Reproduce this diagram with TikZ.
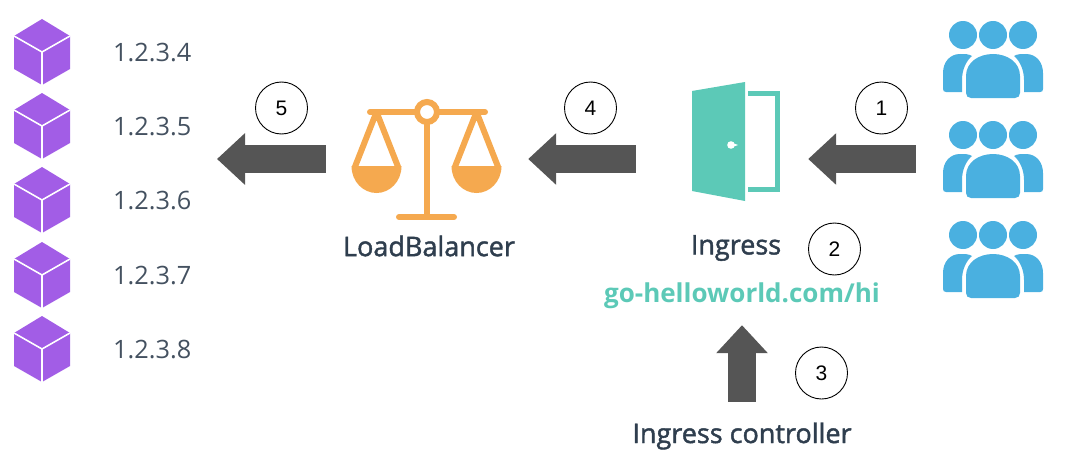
\documentclass[tikz,border=0pt]{standalone}
\usepackage{fontspec}
\setmainfont{Open Sans}
\newfontfamily\labelfont[RawFeature={embolden=1.6}]{Open Sans}
\newfontfamily\numfont{Liberation Sans}
\usetikzlibrary{arrows.meta}

\definecolor{podpurple}{HTML}{A25DE6}
\definecolor{scaleorange}{HTML}{F5A94F}
\definecolor{doorteal}{HTML}{5CC9B7}
\definecolor{userblue}{HTML}{4AB0E0}
\definecolor{arrowgray}{HTML}{555555}
\definecolor{labelslate}{HTML}{2F3E4E}

\tikzset{
    bigarrow/.style={draw=arrowgray, line width=28pt, -{Triangle[length=28pt, width=50pt]}},
    numcircle/.style={circle, draw=black, line width=0.9pt, fill=white, minimum size=52pt, inner sep=0pt, font=\fontsize{21}{24}\selectfont\numfont},
    iplabel/.style={anchor=west, inner sep=0pt, text=labelslate!90, font=\fontsize{25.3}{28}\selectfont},
    iconlabel/.style={inner sep=0pt, text=labelslate, font=\fontsize{27}{30}\selectfont\labelfont},
    urllabel/.style={inner sep=0pt, text=doorteal, font=\fontsize{26}{30}\selectfont\bfseries},
    iconbox/.style={inner sep=0pt, minimum height=50pt},
    cubepic/.pic={
        \fill[podpurple] (0,-33) -- (28,-16) -- (28,17) -- (0,33) -- (-28,17) -- (-28,-16) -- cycle;
        \draw[white, line width=1.6pt] (-28,-16) -- (0,0) -- (28,-16) (0,0) -- (0,33);
    },
    userspic/.pic={
        \fill[userblue] (-30,-24) circle[radius=14] (0,-24) circle[radius=14] (30,-24) circle[radius=14];
        \fill[userblue] (-27,17) .. controls (-27,3) and (-14,-5) .. (0,-5) .. controls (14,-5) and (27,3) .. (27,17)
            -- (27,34) .. controls (27,37) and (25,39) .. (22,39) -- (-22,39) .. controls (-25,39) and (-27,37) .. (-27,34) -- cycle;
        \fill[userblue] (-31,33) -- (-47,33) .. controls (-49,33) and (-50,32) .. (-50,30) -- (-50,14)
            .. controls (-50,3) and (-43,-5) .. (-33,-5) .. controls (-28,-5) and (-24,-5) .. (-21,-3)
            .. controls (-27,2) and (-31,11) .. (-31,21) -- cycle;
        \fill[userblue] (31,33) -- (47,33) .. controls (49,33) and (50,32) .. (50,30) -- (50,14)
            .. controls (50,3) and (43,-5) .. (33,-5) .. controls (28,-5) and (24,-5) .. (21,-3)
            .. controls (27,2) and (31,11) .. (31,21) -- cycle;
    },
    panpic/.pic={
        \fill[scaleorange] (-25,54) .. controls (-25,70) and (-13,81) .. (0,81) .. controls (13,81) and (25,70) .. (25,54) -- cycle;
        \draw[scaleorange, line width=6pt, line join=round] (-22,56) -- (0,0) -- (22,56);
    }
}

\begin{document}
\begin{tikzpicture}[x=1pt, y=-1pt]
    \useasboundingbox (0,0) rectangle (1076,460);

    % pods
    \foreach \i/\yy in {4/53, 5/127, 6/201, 7/276, 8/350} {
        \pic at (42,\yy-1) {cubepic};
        \node[iplabel] (ip-\i) at (113,\yy) {1.2.3.\i};
    }
    \coordinate (pods) at (217,159);

    % scale
    \pic at (376.5,112) {panpic};
    \pic at (476.5,112) {panpic};
    \draw[scaleorange, line width=6pt, line cap=round] (370,112) -- (485,112);
    \draw[scaleorange, line width=6pt] (427,112) -- (427,217);
    \draw[scaleorange, line width=6pt, line cap=round] (399,217) -- (454,217);
    \draw[scaleorange, fill=white, line width=6pt] (427,112) circle[radius=10];
    \node[iconbox, minimum width=202pt] (balancer) at (427,159) {};
    \node[iconlabel] (balancer-label) at (429,246) {LoadBalancer};

    % door
    \fill[doorteal] (692,91) -- (745,82) -- (745,201) -- (692,191) -- cycle;
    \fill[white] (731,145) circle[radius=3.8] (734,143.5) -- (738,145) -- (734,146.5) -- cycle;
    \draw[doorteal, line width=5pt] (748,93.5) -- (777.5,93.5) -- (777.5,189.5) -- (748,189.5);
    \node[iconbox, minimum width=172pt] (doorway) at (722,159) {};
    \node[iconlabel] (ingress) at (736,248) {Ingress};
    \node[urllabel, minimum height=58pt] (url) at (742,296) {go-helloworld.com/hi};
    \node[iconlabel, minimum height=68pt] (controller) at (742,436) {Ingress controller};

    % users
    \foreach \yy in {59, 159, 259} {
        \pic at (993,\yy) {userspic};
    }
    \node[iconbox, minimum width=154pt] (crowd) at (993,159) {};

    \draw[bigarrow] (crowd) -- (doorway);
    \draw[bigarrow] (doorway) -- (balancer);
    \draw[bigarrow] (balancer) -- (pods);
    \draw[bigarrow] (controller) -- (url);

    \node[numcircle] (n1) at (881.5,108) {1};
    \node[numcircle] (n2) at (834.5,249) {2};
    \node[numcircle] (n3) at (821.5,373) {3};
    \node[numcircle] (n4) at (590.5,108) {4};
    \node[numcircle] (n5) at (281.5,108) {5};
\end{tikzpicture}
\end{document}
